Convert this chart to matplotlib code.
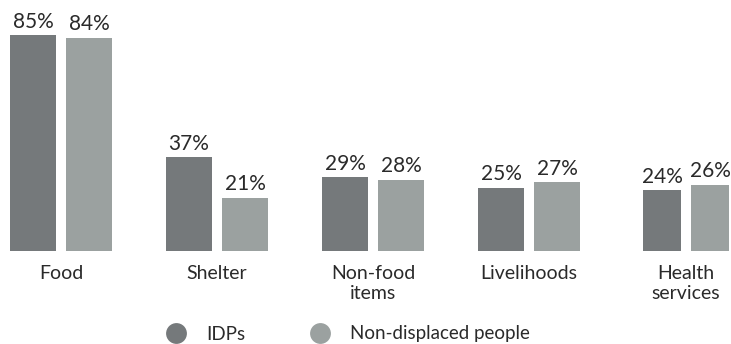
import matplotlib
matplotlib.use("Agg")
import matplotlib.pyplot as plt
from matplotlib.lines import Line2D

categories = ["Food", "Shelter", "Non-food\nitems", "Livelihoods", "Health\nservices"]
idps = [85, 37, 29, 25, 24]
non_displaced = [84, 21, 28, 27, 26]
series_names = ["IDPs", "Non-displaced people"]

# layout (pixel units)
group_left = [10, 166, 322, 478, 643]
bar_w = [46, 46, 46, 46, 38]
gap = 10
px_per_pct = 2.54
baseline_px = 251

c_idp = "#75797b"
c_non = "#9ba1a0"
txt = "#2a2a2a"
plt.rcParams['font.family'] = ['Lato', 'DejaVu Sans']

W, H = 731, 344
fig = plt.figure(figsize=(W / 100, H / 100), dpi=100)
ax = fig.add_axes([0, (H - baseline_px) / H, 1, baseline_px / H])
ax.set_xlim(0, W)
ax.set_ylim(0, baseline_px / px_per_pct)
ax.axis("off")

for i, cat in enumerate(categories):
    x1 = group_left[i]
    x2 = x1 + bar_w[i] + gap
    for x, v, c in ((x1, idps[i], c_idp), (x2, non_displaced[i], c_non)):
        ax.bar(x, v, width=bar_w[i], align="edge", color=c, linewidth=0)
        ax.annotate(f"{v}%", (x + bar_w[i] / 2, v), xytext=(0, 2.5),
                    textcoords="offset points", ha="center", va="bottom",
                    fontsize=15, color=txt)
    center = (x1 + x2 + bar_w[i]) / 2
    ax.annotate(cat, (center, 0), xytext=(0, -10), textcoords="offset points",
                ha="center", va="top", fontsize=14, color=txt,
                linespacing=1.22, annotation_clip=False)

# legend
handles = [Line2D([], [], marker="o", linestyle="", markersize=15,
                  markerfacecolor=c, markeredgewidth=0) for c in (c_idp, c_non)]
fig.legend(handles, series_names, loc="center", bbox_to_anchor=(348 / W, 1 - 334 / H),
           ncol=2, frameon=False, fontsize=13.5, handletextpad=1.1,
           columnspacing=3.47, labelcolor=txt, handlelength=1.0)

fig.savefig("out.png", dpi=100)
